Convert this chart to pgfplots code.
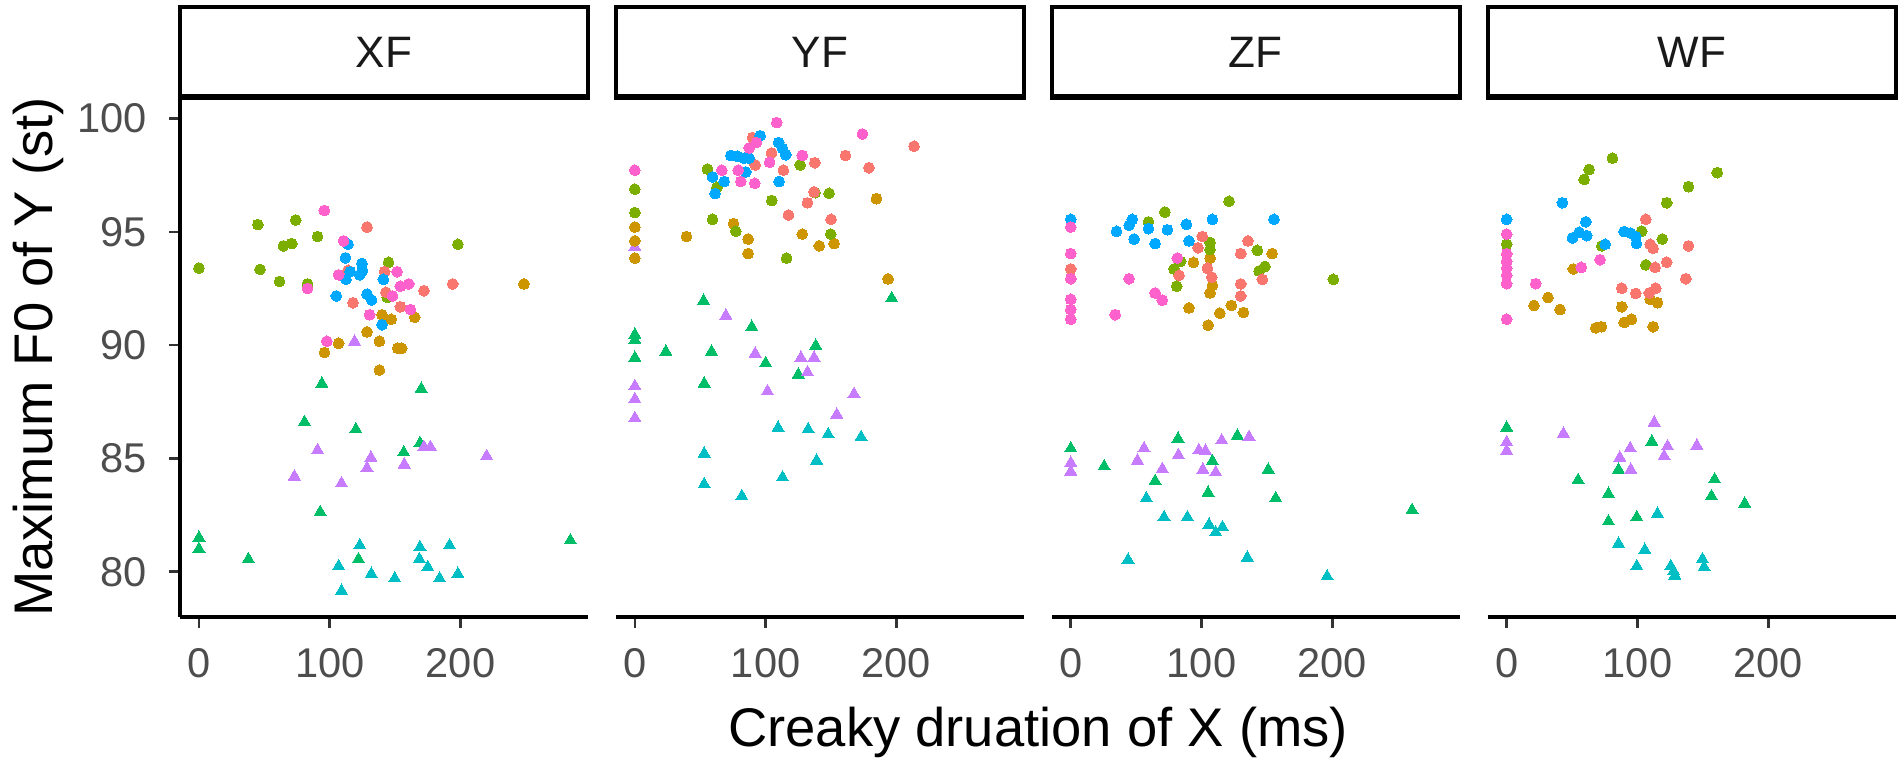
\documentclass[border=0pt]{standalone}
\usepackage{fontspec}
\setmainfont{Liberation Sans}
\usepackage{pgfplots}
\pgfplotsset{compat=1.18}
\definecolor{c1}{HTML}{F8766D}
\definecolor{c2}{HTML}{CD9600}
\definecolor{c3}{HTML}{7CAE00}
\definecolor{c4}{HTML}{00BE67}
\definecolor{c5}{HTML}{00BFC4}
\definecolor{c6}{HTML}{00A9FF}
\definecolor{c7}{HTML}{C77CFF}
\definecolor{c8}{HTML}{FF61CC}
\definecolor{tickgrey}{HTML}{4D4D4D}
\pgfplotsset{
  facet/.style={
    scale only axis, width=102pt, height=130pt, anchor=south west,
    xmin=-14.5, xmax=297.5, ymin=78.0, ymax=100.95,
    xtick={0,100,200}, ytick={80,85,90,95,100},
    tick align=outside, major tick length=2.75pt,
    axis line style={line width=0.85pt, black},
    every tick/.style={line width=0.65pt, color=black!80},
    tick label style={font=\fontsize{10.4}{12}\selectfont, color=tickgrey},
    xticklabel style={anchor=north, inner sep=0pt, yshift=-4.9pt},
    yticklabel style={anchor=east, inner sep=0pt, xshift=-5.4pt},
    /pgf/number format/assume math mode=true,
    clip=false,
    axis x line*=bottom,
  },
  circ/.style={only marks, color=#1, mark=*, mark size=1.35pt, mark options={line width=0pt, fill=#1, draw=#1}},
  tri/.style={only marks, color=#1, mark=triangle*, mark size=1.75pt, mark options={line width=0pt, fill=#1, draw=#1}},
}
\begin{document}
\begin{tikzpicture}
\useasboundingbox (0,0) rectangle (475.5pt,192.5pt);
% ---------------- XF ----------------
\begin{axis}[facet, at={(45pt,38.25pt)}, axis y line*=left]
\addplot[tri=c4] coordinates {(94,88.3) (170,88.07) (80.7,86.6) (120,86.28) (156.6,85.26) (169,85.67) (92.7,82.63) (0,81.5) (0,81.0) (37.8,80.55) (122,80.55) (284,81.38)};
\addplot[tri=c7] coordinates {(119,90.15) (90.7,85.36) (131.5,85.03) (128.5,84.57) (157,84.73) (172,85.5) (177,85.5) (220,85.1) (73,84.2) (109,83.9)};
\addplot[tri=c5] coordinates {(123,81.16) (169,81.08) (191.6,81.16) (106.8,80.24) (168.6,80.55) (175,80.2) (131.8,79.9) (149.7,79.7) (184,79.7) (198,79.9) (109,79.15)};
\addplot[circ=c2] coordinates {(248.5,92.7) (140,91.34) (147,91.14) (165,91.23) (128.5,90.58) (138,90.17) (106.8,90.08) (96,89.67) (152,89.86) (155,89.86) (138,88.9)};
\addplot[circ=c3] coordinates {(0,93.4) (45,95.32) (74,95.52) (64.6,94.38) (71,94.48) (90.7,94.79) (46.7,93.34) (61.6,92.81) (83,92.7) (145,93.65) (198,94.45) (144,92.1)};
\addplot[circ=c1] coordinates {(128.5,95.21) (117.8,91.87) (142,93.24) (143,92.33) (154,91.69) (172,92.4) (194,92.7) (114,93.3)};
\addplot[circ=c6] coordinates {(114,94.45) (112,93.85) (124.6,93.6) (125,93.3) (115.7,93.24) (123,93.1) (112.4,92.9) (141,92.9) (105,92.17) (128.5,92.25) (132,91.99) (140,90.9)};
\addplot[circ=c8] coordinates {(95.8,95.94) (110.6,94.6) (83,92.5) (106.8,93.1) (151.5,93.24) (160.4,92.7) (154,92.6) (148,92.17) (161.7,91.57) (130.5,91.34) (97.8,90.17)};
\end{axis}
% ---------------- YF ----------------
\begin{axis}[facet, at={(153.975pt,38.25pt)}, axis y line=none, ytick=\empty]
\addplot[tri=c4] coordinates {(52.5,91.95) (196.4,92.07) (89.4,90.8) (0,90.46) (0,90.23) (0,89.44) (23.7,89.71) (58.6,89.71) (138.3,89.97) (100,89.2) (125,88.7) (53,88.3)};
\addplot[tri=c7] coordinates {(0,94.33) (69.6,91.3) (92,89.62) (127,89.44) (137,89.44) (132,88.8) (101.4,87.96) (167.6,87.84) (154.4,86.93) (0,88.19) (0,87.61) (0,86.78)};
\addplot[tri=c5] coordinates {(109.5,86.35) (132.5,86.28) (147.8,86.06) (173,85.94) (53,85.21) (139,84.9) (112.9,84.16) (53,83.86) (81.8,83.33)};
\addplot[circ=c2] coordinates {(0,95.21) (0,94.6) (0,93.84) (39.5,94.79) (75.4,95.36) (86.6,94.68) (86.6,94.04) (128,94.9) (141,94.38) (152.4,94.48) (184.7,96.46) (193.6,92.92)};
\addplot[circ=c3] coordinates {(0,96.88) (0,95.85) (55.5,97.77) (62.7,96.96) (126.4,97.95) (104.7,96.38) (137.8,96.73) (148.5,96.7) (59.4,95.55) (77.2,95.03) (149.8,94.9) (116,93.84)};
\addplot[circ=c1] coordinates {(213.5,98.78) (90,99.16) (104.5,98.48) (92,97.95) (113.6,97.72) (137.6,98.05) (161,98.37) (179,97.83) (137,96.76) (132,96.28) (117.5,95.74) (150,95.55)};
\addplot[circ=c6] coordinates {(95.8,99.24) (73.4,98.37) (78.5,98.33) (83.6,98.25) (87.4,98.25) (110,98.94) (112.9,98.68) (115.4,98.4) (84.8,97.64) (59.4,97.42) (68.3,97.22) (61.4,96.69) (110.3,97.22)};
\addplot[circ=c8] coordinates {(108.5,99.82) (174,99.32) (0,97.72) (87.4,98.7) (93,98.94) (66.5,97.72) (79,97.72) (81,97.22) (91.7,97.14) (103,98.07) (128,98.37)};
\end{axis}
% ---------------- ZF ----------------
\begin{axis}[facet, at={(262.95pt,38.25pt)}, axis y line=none, ytick=\empty]
\addplot[tri=c4] coordinates {(0,85.44) (25.5,84.65) (82,85.87) (127.4,86.0) (108.3,84.88) (64.5,84.0) (151,84.5) (105,83.48) (156.7,83.24) (261,82.72)};
\addplot[tri=c7] coordinates {(0,84.8) (0,84.42) (56,85.44) (51,84.9) (82.3,85.14) (70,84.53) (98,85.36) (103,85.33) (115.4,85.79) (136.3,85.94) (101,84.5) (110.8,84.38)};
\addplot[tri=c5] coordinates {(57.8,83.24) (71.3,82.4) (89.2,82.4) (105.7,82.07) (116,81.96) (110.8,81.73) (43.8,80.52) (135,80.62) (196,79.79)};
\addplot[circ=c2] coordinates {(93.8,93.65) (154,94.04) (108.3,92.63) (106.5,92.3) (90.4,91.64) (114,91.41) (122.8,91.75) (132,91.44) (105,90.88) (106.5,93.84)};
\addplot[circ=c3] coordinates {(121,96.35) (72,95.87) (59.4,95.44) (106.5,94.53) (106.5,94.22) (84,93.69) (79,93.36) (81,92.6) (142.7,94.18) (144,93.27) (148.5,93.47) (200.8,92.9)};
\addplot[circ=c1] coordinates {(0,93.36) (100.6,94.79) (97.3,94.3) (82.8,93.08) (104.5,93.39) (107.8,93.0) (130,92.7) (130,92.17) (130,94.04) (135.5,94.6) (146.5,92.9)};
\addplot[circ=c6] coordinates {(0,95.55) (35,95.02) (44.6,95.29) (47,95.55) (48.4,94.68) (59.4,95.14) (64.5,94.48) (73.9,95.09) (88.4,95.33) (90.4,94.6) (108.3,95.55) (155.4,95.55)};
\addplot[circ=c8] coordinates {(0,95.21) (0,94.04) (0,92.93) (0,92.02) (0,91.57) (0,91.14) (44.6,92.93) (34,91.34) (64.5,92.3) (70,91.98) (81.5,93.84)};
\end{axis}
% ---------------- WF ----------------
\begin{axis}[facet, at={(371.925pt,38.25pt)}, axis y line=none, ytick=\empty]
\addplot[tri=c4] coordinates {(0,86.35) (111,85.74) (85.5,84.5) (54.6,84.04) (159,84.07) (77.8,83.43) (156.6,83.33) (182,83.0) (77.8,82.22) (99.5,82.4)};
\addplot[tri=c7] coordinates {(112.8,86.58) (43.4,86.09) (0,85.71) (0,85.33) (94.4,85.44) (123,85.53) (145.4,85.56) (120.4,85.1) (86.5,85.03) (94.9,84.5)};
\addplot[tri=c5] coordinates {(115.3,82.55) (85.5,81.23) (105.6,80.96) (99.5,80.24) (125.5,80.24) (127.6,80.02) (128.6,79.83) (149.7,80.55) (151,80.2)};
\addplot[circ=c2] coordinates {(51,93.36) (31.6,92.1) (20.9,91.75) (40.8,91.57) (88,91.69) (109.7,92.02) (115.3,91.87) (89.8,91.0) (95.4,91.14) (68.1,90.76) (72.4,90.81) (112,90.81)};
\addplot[circ=c3] coordinates {(80.9,98.25) (63,97.75) (59.2,97.31) (161,97.61) (139,96.99) (122.4,96.28) (103.3,95.03) (119,94.68) (0,94.45) (72.7,94.38) (106.4,93.54)};
\addplot[circ=c1] coordinates {(106.4,95.55) (109.7,94.45) (112,94.27) (139,94.38) (122.4,93.66) (113.5,93.43) (137,92.93) (88,92.51) (98.7,92.28) (109,92.3) (114,92.51)};
\addplot[circ=c6] coordinates {(0,95.55) (42.6,96.28) (60.5,95.44) (50.3,94.73) (55.4,94.98) (61.2,94.83) (75.3,94.45) (89.8,95.01) (94.9,94.94) (98.7,94.79) (99.2,94.48)};
\addplot[circ=c8] coordinates {(0,94.9) (0,94.03) (0,93.69) (0,93.39) (0,93.09) (0,92.71) (0,91.14) (22.2,92.71) (57,93.43) (71.4,93.77)};
\end{axis}
% strips
\foreach \x/\lab in {45/XF, 153.975/YF, 262.95/ZF, 371.925/WF}{
  \draw[line width=1.05pt] (\x pt,168.25pt) rectangle ++(102pt,22.5pt);
  \draw[line width=1.5pt] (\x pt-0.5pt,168.25pt) -- ++(103pt,0);
  \node[font=\fontsize{11}{13}\selectfont, text=black!90] at (\x pt+51pt,179.5pt) {\lab};
}
% axis titles
\node[rotate=90, anchor=base, font=\fontsize{13.6}{16}\selectfont] at (13pt,103.25pt) {Maximum F0 of Y (st)};
\node[anchor=base, font=\fontsize{13.6}{16}\selectfont] at (259.5pt,6pt) {Creaky druation of X (ms)};
\end{tikzpicture}
\end{document}
